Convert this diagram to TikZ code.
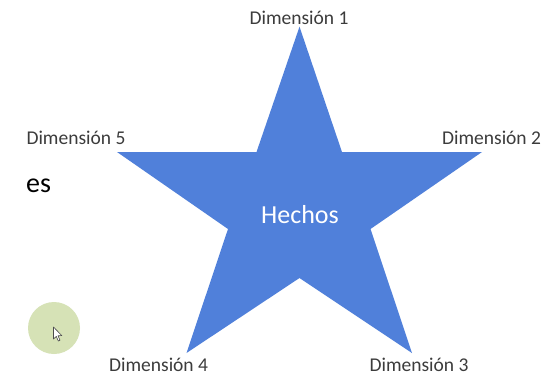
\documentclass[tikz,border=0pt]{standalone}
\usepackage{fontspec}
\setmainfont{Carlito}
\definecolor{starblue}{RGB}{80,128,218}
\definecolor{labelgray}{RGB}{60,60,60}
\definecolor{dotgreen}{RGB}{214,226,182}
\tikzset{
  dimlabel/.style={anchor=base, inner sep=0pt, text=labelgray, font=\fontsize{19.5}{22}\selectfont},
}
\begin{document}
\begin{tikzpicture}[x=1pt,y=-1pt]
\useasboundingbox[fill=white] (0,0) rectangle (557,376);
% star
\fill[starblue] (299.5,26.7) -- (342,152) -- (482,152) -- (370.5,229) -- (412,353)
  -- (299.5,278) -- (186.5,353) -- (228,229) -- (117,152) -- (256.5,152) -- cycle;
\node[anchor=base, inner sep=0pt, text=white, font=\fontsize{26}{30}\selectfont] (hechos) at (300,223) {Hechos};
% labels
\node[dimlabel] (d1) at (299,24) {Dimensión 1};
\node[dimlabel] (d2) at (491.6,144) {Dimensión 2};
\node[dimlabel] (d3) at (419,371) {Dimensión 3};
\node[dimlabel] (d4) at (158.6,371) {Dimensión 4};
\node[dimlabel] (d5) at (76,144) {Dimensión 5};
\node[anchor=base west, inner sep=0pt, text=black, font=\fontsize{28}{32}\selectfont] (es) at (26,192) {es};
% pointer highlight
\fill[dotgreen] (54,328) circle (26);
\filldraw[fill=white, draw=black!70, line width=0.6pt, line join=round]
  (53.5,327) -- (53.5,339) -- (56.3,336.4) -- (58.3,341) -- (60,340.2) -- (58,335.8) -- (61.8,335.6) -- cycle;
\end{tikzpicture}
\end{document}
